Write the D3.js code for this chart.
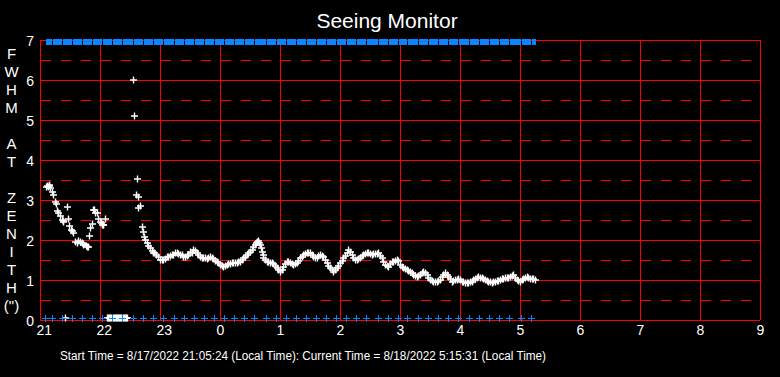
<!DOCTYPE html>
<html>
<head>
<meta charset="utf-8">
<script src="https://cdn.jsdelivr.net/npm/d3@7"></script>
<style>
    html, body { margin: 0; padding: 0; background: #000; }
    #chart { width: 780px; height: 377px; }
    text { font-family: "Liberation Sans", Arial, sans-serif; fill: #fff; }
</style>
</head>
<body>
<div id="chart"></div>
<script>

// minutes after 21:00 local time
const startMinute = 5.4;    // 21:05:24
const endMinute = 495.5;    // 5:15:31

const hourTicks = [0, 60, 120, 180, 240, 300, 360, 420, 480, 540, 600, 660, 720];
const hourLabels = ['21', '22', '23', '0', '1', '2', '3', '4', '5', '6', '7', '8', '9'];
const fwhmTicks = [0, 1, 2, 3, 4, 5, 6, 7];
const halfTicks = [0.5, 1.5, 2.5, 3.5, 4.5, 5.5, 6.5];
const axisLetters = ['F', 'W', 'H', 'M', '', 'A', 'T', '', 'Z', 'E', 'N', 'I', 'T', 'H', '(")'];

// [minute, FWHM at zenith (arcsec)] -- failed frames sit on the floor
const seeing = [
    [5.5,3.33],[6.7,3.36],[7.5,3.32],[8.5,3.35],[9.3,3.37],[10,3.30],[11.7,3.2],[13.3,3.12],[15,2.95],[15.7,2.9],
    [16.7,2.73],[18.3,2.67],[20,2.6],[21.7,2.5],[22.7,2.48],[23.3,2.46],[25,0.05],[27.3,2.82],[28.3,2.52],[29.3,2.36],
    [30.7,2.25],[31.7,2.22],[32.7,2.18],[35,1.96],[36.7,1.92],[38.3,1.98],[40,1.96],[41.7,1.92],[42.7,1.9],[43.3,1.88],
    [46,1.85],[46.7,1.83],[47.7,1.82],[49.3,2.1],[50,2.29],[52.3,2.4],[53.3,2.75],[54,2.75],[55,2.67],[56.7,2.68],
    [58.3,2.52],[60,2.46],[60.7,2.42],[61.7,2.37],[62.7,2.37],[63.3,2.37],[64.7,2.52],
    [67,0.05],[68,0.05],[69,0.05],[70,0.05],[71,0.05],[73,0.05],[74,0.05],[75,0.05],[76,0.05],[77,0.05],
    [78,0.05],[79,0.05],[80,0.05],[81,0.05],[83,0.05],[84,0.05],[85,0.05],[86,0.05],[87,0.05],
    [93.3,6.0],[94.3,5.1],[95.5,3.12],[96.7,3.52],[97.5,3.08],[98.3,2.79],[100.3,2.85],[101.7,2.32],[103.3,2.21],[104.3,2.08],
    [105,2.0],[106.7,1.92],[108.3,1.85],[110,1.8],[111.7,1.73],[113.3,1.67],[114,1.68],[116,1.62],[118.3,1.57],[120,1.5],
    [121.7,1.5],[123.3,1.5],[125,1.52],[126.7,1.57],[128.3,1.58],[130,1.6],[131.7,1.62],[133.3,1.63],[135,1.67],[136.7,1.67],
    [138.3,1.65],[140,1.63],[141.7,1.62],[143.3,1.58],[145,1.57],[146.7,1.6],[148.3,1.62],[150,1.71],[151.7,1.68],[153.3,1.75],
    [155,1.73],[156.7,1.67],[158.3,1.63],[160,1.58],[161.7,1.56],[163.3,1.54],[165,1.54],[166.7,1.53],[168.3,1.55],[170,1.57],
    [171.7,1.55],[173.3,1.52],[175,1.48],[176.7,1.46],[178.3,1.42],[180,1.38],[181.7,1.35],[183.3,1.33],[185,1.35],[186.7,1.38],
    [188.3,1.4],[190,1.4],[191.7,1.42],[193.3,1.43],[195,1.42],[196.7,1.42],[198.3,1.44],[200,1.46],[201.7,1.5],[203.3,1.54],
    [205,1.58],[206.7,1.63],[208.3,1.67],[210,1.71],[211.7,1.76],[213.3,1.82],[214.7,1.87],[216,1.92],[217.3,1.96],[218.3,1.98],
    [219.2,1.93],[220,1.88],[221,1.8],[221.7,1.71],[222.5,1.62],[223.3,1.54],[225,1.5],[226.7,1.46],[228.3,1.45],[230,1.43],
    [231.7,1.42],[233.3,1.39],[235,1.35],[236.7,1.29],[238.3,1.24],[240,1.2],[241.7,1.25],[243.3,1.33],[245,1.4],[246.7,1.46],
    [248.3,1.44],[250,1.42],[251.7,1.4],[253.3,1.38],[255,1.4],[256.7,1.42],[258.3,1.48],[260,1.54],[261.7,1.58],[263.3,1.63],
    [265,1.66],[266.7,1.68],[268.3,1.68],[270,1.67],[271.7,1.62],[273.3,1.58],[275,1.56],[276.7,1.54],[278.3,1.6],[280,1.63],
    [281.7,1.6],[283.3,1.58],[285,1.5],[286.7,1.42],[288.3,1.35],[290,1.29],[291.7,1.25],[293.3,1.21],[295,1.25],[296.7,1.29],
    [298.3,1.35],[300,1.42],[301.7,1.48],[303.3,1.54],[305,1.6],[306.7,1.67],[308.3,1.75],[310,1.7],[311.7,1.63],[313.3,1.56],
    [315,1.5],[316.7,1.51],[318.3,1.52],[320,1.56],[321.7,1.6],[323.3,1.63],[325,1.65],[326.7,1.67],[328.3,1.68],[330,1.66],
    [331.7,1.63],[333.3,1.64],[335,1.65],[336.7,1.66],[338.3,1.67],[340,1.6],[341.7,1.54],[343.3,1.46],[345,1.38],[346.7,1.35],
    [348.3,1.33],[350,1.4],[351.7,1.44],[353.3,1.46],[355,1.48],[356.7,1.5],[358.3,1.48],[360,1.38],[361.7,1.33],[363.3,1.29],
    [365,1.27],[366.7,1.25],[368.3,1.23],[370,1.21],[371.7,1.17],[373.3,1.13],[375,1.1],[376.7,1.07],[378.3,1.1],[380,1.13],
    [381.7,1.17],[383.3,1.21],[385,1.17],[386.7,1.13],[388.3,1.06],[390,1.0],[391.7,0.98],[393.3,0.96],[395,0.96],[396.7,0.96],
    [398.3,0.98],[400,1.0],[401.7,1.07],[403.3,1.13],[405,1.17],[406.7,1.12],[408.3,1.08],[410,1.02],[411.7,0.96],[413.3,0.98],
    [415,1.0],[416.7,1.01],[418.3,1.02],[420,0.99],[421.7,0.96],[423.3,0.95],[425,0.93],[426.7,0.93],[428.3,0.93],[430,0.95],
    [431.7,0.96],[433.3,0.99],[435,1.02],[436.7,1.05],[438.3,1.07],[440,1.06],[441.7,1.04],[443.3,1.02],[445,1.0],[446.7,0.98],
    [448.3,0.96],[450,0.95],[451.7,0.93],[453.3,0.95],[455,0.96],[456.7,0.97],[458.3,0.98],[460,1.0],[461.7,1.02],[463.3,1.03],
    [465,1.04],[466.7,1.04],[468.3,1.04],[470,1.07],[471.7,1.1],[473.3,1.13],[475,1.06],[476.7,1.0],[478.3,0.98],[480,0.96],
    [481.7,0.99],[483.3,1.02],[485,1.05],[486.7,1.07],[488.3,1.04],[490,1.02],[491.7,1.02],[493.3,1.02],[495,1.0]
];

// calibration events (blue markers on the floor), minutes after 21:00
const calibrationTimes = [
    5, 11.7, 21.7, 31.7, 41.7, 51.7, 61.7, 71.9, 82.2, 92.5, 102.7, 113, 123.3, 133.5, 143.8, 154, 164.3,
    174.3, 184.3, 194.3, 204.3, 214.3, 225.7, 235.7, 245.7, 255.7, 265.7, 276.3, 286.3, 296.3, 306.3, 316.3,
    326.3, 337.7, 347.7, 357.5, 367.3, 378.3, 388.3, 398.3, 408.3, 418.3, 429.3, 439.3, 449.3, 459.3, 469.3,
    480.7, 490.7
];
const floorLevel = 0.05;
const ceilingLevel = 6.95;

class SeeingChart {

    constructor(parentElement) {
        this.parentElement = parentElement;
        this.initVis();
    }

    initVis() {
        let vis = this;

        vis.margin = {top: 40, right: 20, bottom: 57, left: 40};
        vis.totalWidth = 780;
        vis.totalHeight = 377;

        vis.svg = d3.select('#' + vis.parentElement).append('svg')
            .attr('width', vis.totalWidth)
            .attr('height', vis.totalHeight)
            .style('background', '#000');

        vis.x = d3.scaleLinear()
            .domain([0, 720])
            .range([vis.margin.left, vis.totalWidth - vis.margin.right]);

        vis.y = d3.scaleLinear()
            .domain([0, 7])
            .range([vis.totalHeight - vis.margin.bottom, vis.margin.top]);

        // title
        vis.svg.append('text')
            .attr('x', 387)
            .attr('y', 28)
            .attr('text-anchor', 'middle')
            .style('font-size', '21px')
            .text('Seeing Monitor');

        // vertical axis title, one letter per line
        vis.svg.append('g').selectAll('text')
            .data(axisLetters)
            .enter().append('text')
            .attr('x', 11.5)
            .attr('y', (d, i) => 53 + i * 18)
            .attr('text-anchor', 'middle')
            .attr('dominant-baseline', 'central')
            .style('font-size', '15px')
            .text(d => d);

        vis.drawGrid();
        vis.drawAxes();
        vis.updateVis();
    }

    drawGrid() {
        let vis = this;
        let grid = vis.svg.append('g')
            .attr('stroke', '#ff0000')
            .attr('stroke-width', 1)
            .attr('shape-rendering', 'crispEdges');

        // dashed half-arcsecond lines
        grid.selectAll('.half')
            .data(halfTicks)
            .enter().append('line')
            .attr('class', 'half')
            .attr('x1', vis.x(0))
            .attr('x2', vis.x(720))
            .attr('y1', d => Math.round(vis.y(d)) + 0.5)
            .attr('y2', d => Math.round(vis.y(d)) + 0.5)
            .attr('stroke-dasharray', '10,10')
            .attr('stroke-dashoffset', -1);

        grid.selectAll('.hline')
            .data(fwhmTicks)
            .enter().append('line')
            .attr('class', 'hline')
            .attr('x1', vis.x(0))
            .attr('x2', vis.x(720))
            .attr('y1', d => Math.round(vis.y(d)) + 0.5)
            .attr('y2', d => Math.round(vis.y(d)) + 0.5);

        grid.selectAll('.vline')
            .data(hourTicks)
            .enter().append('line')
            .attr('class', 'vline')
            .attr('x1', d => Math.round(vis.x(d)) + 0.5)
            .attr('x2', d => Math.round(vis.x(d)) + 0.5)
            .attr('y1', vis.y(7))
            .attr('y2', vis.y(0));
    }

    drawAxes() {
        let vis = this;

        let xAxis = d3.axisBottom(vis.x)
            .tickValues(hourTicks)
            .tickFormat((d, i) => hourLabels[i])
            .tickSize(0);

        let xg = vis.svg.append('g')
            .attr('transform', `translate(0, ${vis.y(0)})`)
            .call(xAxis);
        xg.select('.domain').remove();
        xg.selectAll('text')
            .attr('y', 15)
            .attr('dy', 0)
            .attr('dx', -4)
            .attr('text-anchor', 'start')
            .attr('fill', '#fff')
            .style('font-size', '14px')
            .style('font-family', '"Liberation Sans", Arial, sans-serif');

        let yAxis = d3.axisLeft(vis.y)
            .tickValues(fwhmTicks)
            .tickFormat(d3.format('d'))
            .tickSize(0)
            .tickPadding(6);

        let yg = vis.svg.append('g')
            .attr('transform', `translate(${vis.x(0)}, 0)`)
            .call(yAxis);
        yg.select('.domain').remove();
        yg.selectAll('text')
            .attr('dy', '0.36em')
            .attr('fill', '#fff')
            .style('font-size', '14px')
            .style('font-family', '"Liberation Sans", Arial, sans-serif');

        // footer
        vis.svg.append('text')
            .attr('x', 60)
            .attr('y', 360)
            .attr('textLength', 486)
            .attr('lengthAdjust', 'spacingAndGlyphs')
            .style('font-size', '12.5px')
            .text('Start Time = 8/17/2022 21:05:24 (Local Time): Current Time = 8/18/2022 5:15:31 (Local Time)');
    }

    updateVis() {
        let vis = this;
        let plus = 'M-3,0H4M0.5,-3.5V3.5';

        // measurement cycles along the top, broken at each calibration
        let cuts = [startMinute]
            .concat(calibrationTimes.filter(t => t > startMinute && t < endMinute))
            .concat([endMinute]);
        let cycles = d3.pairs(cuts);

        vis.svg.append('g').selectAll('rect')
            .data(cycles)
            .enter().append('rect')
            .attr('x', d => Math.round(vis.x(d[0])) + 1)
            .attr('width', d => Math.max(1, Math.round(vis.x(d[1])) - Math.round(vis.x(d[0])) - 1))
            .attr('y', Math.round(vis.y(ceilingLevel)) - 3)
            .attr('height', 6)
            .attr('fill', '#0a84ff')
            .attr('shape-rendering', 'crispEdges');

        // seeing measurements
        vis.svg.append('g').selectAll('path')
            .data(seeing)
            .enter().append('path')
            .attr('d', plus)
            .attr('transform', d => `translate(${Math.round(vis.x(d[0]))}, ${Math.round(vis.y(d[1]))})`)
            .attr('stroke', '#fff')
            .attr('stroke-width', 1.4)
            .attr('fill', 'none');

        // calibration markers on the floor
        vis.svg.append('g').selectAll('path')
            .data(calibrationTimes)
            .enter().append('path')
            .attr('d', plus)
            .attr('transform', d => `translate(${Math.round(vis.x(d))}, ${Math.round(vis.y(floorLevel))})`)
            .attr('stroke', '#0a84ff')
            .attr('stroke-width', 1)
            .attr('fill', 'none')
            .attr('shape-rendering', 'crispEdges');
    }
}

new SeeingChart('chart');

</script>
</body>
</html>
